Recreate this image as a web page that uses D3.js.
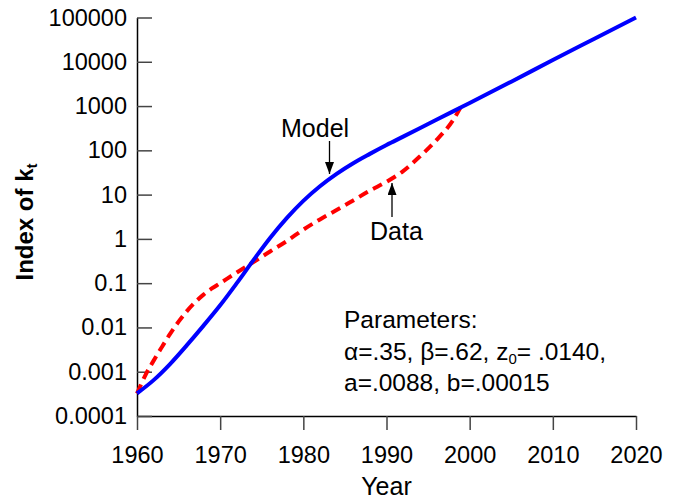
<!DOCTYPE html>
<html>
<head>
<meta charset="utf-8">
<script src="https://cdn.jsdelivr.net/npm/d3@7"></script>
<style>
body{margin:0;background:#fff;}
svg text{font-family:"Liberation Sans",Arial,sans-serif;fill:#000;}
</style>
</head>
<body>
<script>
// model curve (blue)
var modelYears=[1960,1962,1964,1966,1968,1970,1972,1974,1976,1978,1980,1982,1984,1986,1988,1990,1992,1994,1996,1998,2000,2005,2010,2015,2020];
var modelValues=[0.000324,0.000646,0.00151,0.00398,0.011,0.0316,0.1,0.331,1.05,2.95,7.24,15.5,29.5,51.3,83.2,132,204,316,490,759,1175,3548,10965,33113,100000];
// data curve (red dashed)
var dataYears=[1960,1961,1962,1963,1964,1965,1966,1967,1968,1969,1970,1972,1974,1976,1978,1980,1982,1984,1986,1988,1990,1992,1994,1996,1998,1999];
var dataValues=[0.00032,0.00083,0.00178,0.00363,0.00724,0.0135,0.0234,0.0372,0.055,0.0759,0.1,0.174,0.30,0.52,0.89,1.62,2.75,4.47,7.4,12.3,19.5,33.9,72.4,170,479,1000];

var xTicks=[1960,1970,1980,1990,2000,2010,2020];
var yTicks=[0.0001,0.001,0.01,0.1,1,10,100,1000,10000,100000];
var yTickLabels=['0.0001','0.001','0.01','0.1','1','10','100','1000','10000','100000'];

var width=683,height=500;
var plotLeft=137,plotRight=636,plotTop=17.5,plotBottom=416;

var svg=d3.select('body').append('svg')
  .attr('width',width)
  .attr('height',height);

var xScale=d3.scaleLinear().domain([1960,2020]).range([plotLeft,plotRight]);
var yScale=d3.scaleLog().domain([0.0001,100000]).range([plotBottom,plotTop]);

// x axis, ticks going down
var xAxis=d3.axisBottom(xScale)
  .tickValues(xTicks)
  .tickFormat(d3.format('d'))
  .tickSize(14)
  .tickSizeOuter(0)
  .tickPadding(16);
var gx=svg.append('g')
  .attr('transform','translate(0,'+plotBottom+')')
  .call(xAxis);
gx.attr('font-family',null).attr('font-size',null);
gx.selectAll('text').style('font-size','23.5px');
gx.select('.domain').attr('stroke','#000').attr('stroke-width',1.5);
gx.selectAll('.tick line').attr('stroke','#444').attr('stroke-width',1.5);

// y axis, ticks pointing inward
var yAxis=d3.axisLeft(yScale)
  .tickValues(yTicks)
  .tickFormat((d,i)=>yTickLabels[i])
  .tickSize(-15)
  .tickSizeOuter(0)
  .tickPadding(10);
var gy=svg.append('g')
  .attr('transform','translate('+plotLeft+',0)')
  .call(yAxis);
gy.attr('font-family',null).attr('font-size',null);
gy.selectAll('text').style('font-size','23.5px');
gy.select('.domain').attr('stroke','#000').attr('stroke-width',1.5);
gy.selectAll('.tick line').attr('stroke','#444').attr('stroke-width',1.5);

var line=d3.line()
  .x((d)=>xScale(d[0]))
  .y((d)=>yScale(d[1]))
  .curve(d3.curveMonotoneX);

svg.append('path')
  .datum(dataYears.map((y,i)=>[y,dataValues[i]]))
  .attr('d',line)
  .attr('fill','none')
  .attr('stroke','#ff0000')
  .attr('stroke-width',4)
  .attr('stroke-dasharray','10,6');

svg.append('path')
  .datum(modelYears.map((y,i)=>[y,modelValues[i]]))
  .attr('d',line)
  .attr('fill','none')
  .attr('stroke','#0000ff')
  .attr('stroke-width',4);

// axis titles
svg.append('text')
  .attr('x',(plotLeft+plotRight)/2)
  .attr('y',495)
  .attr('text-anchor','middle')
  .style('font-size','25px')
  .text('Year');

var yTitle=svg.append('text')
  .attr('transform','translate(33,222) rotate(-90)')
  .attr('text-anchor','middle')
  .style('font-size','24px')
  .style('font-weight','bold')
  .text('Index of k');
yTitle.append('tspan')
  .attr('baseline-shift','-25%')
  .style('font-size','15px')
  .text('t');

// annotations with arrows
var defs=svg.append('defs');
defs.append('marker')
  .attr('id','arrow')
  .attr('viewBox','0 0 12 9')
  .attr('refX',12).attr('refY',4.5)
  .attr('markerWidth',12).attr('markerHeight',9)
  .attr('markerUnits','userSpaceOnUse')
  .attr('orient','auto')
  .append('path')
  .attr('d','M0,0 L12,4.5 L0,9 Z')
  .attr('fill','#000');

svg.append('text')
  .attr('x',281)
  .attr('y',137)
  .style('font-size','25px')
  .text('Model');
svg.append('line')
  .attr('x1',329.5).attr('y1',141)
  .attr('x2',329.5).attr('y2',174)
  .attr('stroke','#000').attr('stroke-width',1.3)
  .attr('marker-end','url(#arrow)');

svg.append('text')
  .attr('x',370)
  .attr('y',240)
  .style('font-size','25px')
  .text('Data');
svg.append('line')
  .attr('x1',392).attr('y1',217)
  .attr('x2',392).attr('y2',183)
  .attr('stroke','#000').attr('stroke-width',1.3)
  .attr('marker-end','url(#arrow)');

// parameters block
var params=svg.append('g').style('font-size','24.5px');
params.append('text').attr('x',344).attr('y',328).text('Parameters:');
var p2=params.append('text').attr('x',344).attr('y',360);
p2.append('tspan').text('α=.35, β=.62, z');
p2.append('tspan').attr('baseline-shift','-25%').style('font-size','15px').text('0');
p2.append('tspan').text('= .0140,');
params.append('text').attr('x',344).attr('y',391).text('a=.0088, b=.00015');
</script>
</body>
</html>
